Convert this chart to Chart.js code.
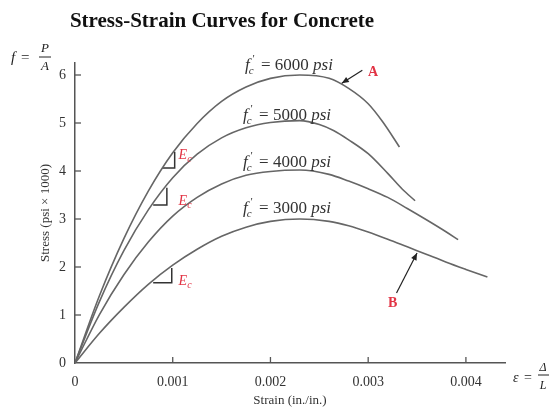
<!DOCTYPE html>
<html>
<head>
<meta charset="utf-8">
<title>Stress-Strain Curves for Concrete</title>
<script src="https://cdn.jsdelivr.net/npm/chart.js@4.4.1/dist/chart.umd.min.js"></script>
<style>
  html, body { margin: 0; padding: 0; background: #fff; }
  #wrap { width: 552px; height: 413px; }
</style>
</head>
<body>
<div id="wrap"><canvas id="chart" width="552" height="413"></canvas></div>
<script>
// curves (strain in in./in., stress in psi x 1000)
const strain6000 = [0, 0.00025, 0.0005, 0.00075, 0.001, 0.00125, 0.0015, 0.00175, 0.002, 0.0023, 0.0026, 0.0028, 0.003, 0.00315, 0.00332];
const stress6000 = [0, 1.40, 2.59, 3.58, 4.38, 4.99, 5.45, 5.75, 5.93, 6.00, 5.93, 5.72, 5.40, 5.02, 4.50];

const strain5000 = [0, 0.00025, 0.0005, 0.00075, 0.001, 0.00125, 0.0015, 0.00175, 0.002, 0.0023, 0.0025, 0.00265, 0.0028, 0.003, 0.0032, 0.00335, 0.00348];
const stress5000 = [0, 1.28, 2.34, 3.19, 3.86, 4.35, 4.69, 4.90, 5.01, 5.05, 4.97, 4.84, 4.65, 4.36, 3.95, 3.62, 3.38];

const strain4000 = [0, 0.00025, 0.0005, 0.00075, 0.001, 0.00125, 0.0015, 0.00175, 0.002, 0.0023, 0.0026, 0.0028, 0.003, 0.0032, 0.0034, 0.0036, 0.0038, 0.00392];
const stress4000 = [0, 1.01, 1.84, 2.52, 3.06, 3.45, 3.73, 3.91, 3.99, 4.02, 3.93, 3.79, 3.63, 3.45, 3.22, 2.98, 2.73, 2.57];

const strain3000 = [0, 0.00025, 0.0005, 0.00075, 0.001, 0.00125, 0.0015, 0.00175, 0.002, 0.0023, 0.0026, 0.0028, 0.003, 0.0032, 0.0034, 0.0036, 0.0038, 0.004, 0.00422];
const stress3000 = [0, 0.62, 1.16, 1.64, 2.04, 2.37, 2.64, 2.83, 2.95, 3.00, 2.95, 2.86, 2.73, 2.58, 2.42, 2.26, 2.10, 1.95, 1.79];

// small slope triangles (Ec) sitting on the curves
const triStrain1 = [0.00089, 0.00102, 0.00102];
const triStress1 = [4.06, 4.06, 4.40];
const triStrain2 = [0.00080, 0.00094, 0.00094];
const triStress2 = [3.29, 3.29, 3.65];
const triStrain3 = [0.00080, 0.00099, 0.00099];
const triStress3 = [1.67, 1.67, 1.98];

const xTicks = [0, 0.001, 0.002, 0.003, 0.004];
const yTicks = [0, 1, 2, 3, 4, 5, 6];
const curveNames = ['6000', '5000', '4000', '3000'];

const SERIF = '"Liberation Serif", "DejaVu Serif", serif';
const RED = '#e23445';

function pts(xs, ys) {
    return xs.map((x, i) => ({ x: x, y: ys[i] }));
}

function curve(label, xs, ys) {
    return {
        label: label,
        data: pts(xs, ys),
        borderColor: '#666',
        borderWidth: 1.6,
        pointRadius: 0,
        fill: false,
        cubicInterpolationMode: 'monotone'
    };
}

function tri(xs, ys) {
    return {
        label: 'Ec',
        data: pts(xs, ys),
        borderColor: '#333',
        borderWidth: 1.5,
        pointRadius: 0,
        fill: false,
        tension: 0
    };
}

// draws f'c = xxxx psi with baseline at (x, y)
function drawFc(ctx, x, y, val) {
    ctx.fillStyle = '#333';
    ctx.textAlign = 'left';
    ctx.textBaseline = 'alphabetic';
    ctx.font = 'italic 17px ' + SERIF;
    ctx.fillText('f', x, y);
    let w = ctx.measureText('f').width;
    ctx.font = 'italic 11px ' + SERIF;
    ctx.fillText('c', x + w - 1, y + 4);
    ctx.fillText('\u2032', x + w + 2, y - 8);
    w += 7;
    ctx.font = '17px ' + SERIF;
    const mid = ' = ' + val + ' ';
    ctx.fillText(mid, x + w, y);
    w += ctx.measureText(mid).width;
    ctx.font = 'italic 17px ' + SERIF;
    ctx.fillText('psi', x + w, y);
}

function drawEc(ctx, x, y) {
    ctx.fillStyle = RED;
    ctx.textAlign = 'left';
    ctx.textBaseline = 'alphabetic';
    ctx.font = 'italic 14px ' + SERIF;
    ctx.fillText('E', x, y);
    const w = ctx.measureText('E').width;
    ctx.font = 'italic 10px ' + SERIF;
    ctx.fillText('c', x + w, y + 3);
}

function arrow(ctx, x1, y1, x2, y2) {
    ctx.strokeStyle = '#222';
    ctx.fillStyle = '#222';
    ctx.lineWidth = 1.2;
    ctx.beginPath();
    ctx.moveTo(x1, y1);
    ctx.lineTo(x2, y2);
    ctx.stroke();
    const a = Math.atan2(y2 - y1, x2 - x1);
    const L = 7, W = 3;
    ctx.beginPath();
    ctx.moveTo(x2, y2);
    ctx.lineTo(x2 - L * Math.cos(a) + W * Math.sin(a), y2 - L * Math.sin(a) - W * Math.cos(a));
    ctx.lineTo(x2 - L * Math.cos(a) - W * Math.sin(a), y2 - L * Math.sin(a) + W * Math.cos(a));
    ctx.closePath();
    ctx.fill();
}

const decorPlugin = {
    id: 'decor',
    afterDraw(chart) {
        const ctx = chart.ctx;
        const xs = chart.scales.x;
        const ys = chart.scales.y;
        const X = v => xs.getPixelForValue(v);
        const Y = v => ys.getPixelForValue(v);
        ctx.save();

        // inward tick marks
        ctx.strokeStyle = '#555';
        ctx.lineWidth = 1.3;
        yTicks.slice(1).forEach(v => {
            ctx.beginPath();
            ctx.moveTo(X(0), Y(v));
            ctx.lineTo(X(0) + 6, Y(v));
            ctx.stroke();
        });
        xTicks.slice(1).forEach(v => {
            ctx.beginPath();
            ctx.moveTo(X(v), Y(0));
            ctx.lineTo(X(v), Y(0) - 6);
            ctx.stroke();
        });

        // title
        ctx.fillStyle = '#111';
        ctx.textAlign = 'center';
        ctx.textBaseline = 'middle';
        ctx.font = 'bold 21px ' + SERIF;
        ctx.fillText('Stress-Strain Curves for Concrete', 222, 22);

        // f = P / A
        ctx.fillStyle = '#222';
        ctx.textBaseline = 'alphabetic';
        ctx.textAlign = 'left';
        ctx.font = 'italic 15px ' + SERIF;
        ctx.fillText('f', 11, 62);
        ctx.font = '15px ' + SERIF;
        ctx.fillText('=', 21, 62);
        ctx.textAlign = 'center';
        ctx.font = 'italic 13px ' + SERIF;
        ctx.fillText('P', 45, 52);
        ctx.fillText('A', 45, 70);
        ctx.beginPath();
        ctx.lineWidth = 1;
        ctx.strokeStyle = '#222';
        ctx.moveTo(39, 57);
        ctx.lineTo(51, 57);
        ctx.stroke();

        // epsilon = delta / L
        ctx.textAlign = 'left';
        ctx.font = 'italic 14px ' + SERIF;
        ctx.fillText('\u03b5', 513, 382);
        ctx.font = '14px ' + SERIF;
        ctx.fillText('=', 524, 382);
        ctx.textAlign = 'center';
        ctx.font = 'italic 12px ' + SERIF;
        ctx.fillText('\u0394', 543, 371);
        ctx.fillText('L', 543, 389);
        ctx.beginPath();
        ctx.moveTo(538, 375);
        ctx.lineTo(549, 375);
        ctx.stroke();

        // curve labels
        drawFc(ctx, X(0.00174), Y(6.10), curveNames[0]);
        drawFc(ctx, X(0.00172), Y(5.06), curveNames[1]);
        drawFc(ctx, X(0.00172), Y(4.08), curveNames[2]);
        drawFc(ctx, X(0.00172), Y(3.13), curveNames[3]);

        drawEc(ctx, X(0.00106), Y(4.25));
        drawEc(ctx, X(0.00106), Y(3.29));
        drawEc(ctx, X(0.00106), Y(1.63));

        // A and B callouts
        arrow(ctx, X(0.00294), Y(6.10), X(0.00273), Y(5.83));
        arrow(ctx, X(0.00329), Y(1.46), X(0.0035), Y(2.29));
        ctx.fillStyle = RED;
        ctx.textAlign = 'center';
        ctx.textBaseline = 'middle';
        ctx.font = 'bold 14px ' + SERIF;
        ctx.fillText('A', X(0.00305), Y(6.06));
        ctx.fillText('B', X(0.00325), Y(1.25));

        ctx.restore();
    }
};

const ctx = document.getElementById('chart').getContext('2d');
const chart = new Chart(ctx, {
    type: 'line',
    data: {
        datasets: [
            curve('6000 psi', strain6000, stress6000),
            curve('5000 psi', strain5000, stress5000),
            curve('4000 psi', strain4000, stress4000),
            curve('3000 psi', strain3000, stress3000),
            tri(triStrain1, triStress1),
            tri(triStrain2, triStress2),
            tri(triStrain3, triStress3)
        ]
    },
    options: {
        responsive: false,
        animation: false,
        layout: { padding: { left: 0, right: 47, top: 63, bottom: 0 } },
        plugins: {
            legend: { display: false },
            tooltip: { enabled: false },
            title: { display: false }
        },
        scales: {
            x: {
                type: 'linear',
                min: 0,
                max: 0.0044,
                afterFit: s => { s.height = 50; },
                afterBuildTicks: s => { s.ticks = xTicks.map(v => ({ value: v })); },
                grid: { display: false, drawTicks: false },
                border: { display: true, color: '#555', width: 1.5 },
                ticks: {
                    padding: 11,
                    color: '#333',
                    font: { family: SERIF, size: 14 },
                    callback: v => (v === 0 ? '0' : v.toFixed(3))
                },
                title: {
                    display: true,
                    text: 'Strain (in./in.)',
                    color: '#333',
                    font: { family: SERIF, size: 13 },
                    padding: { top: 0, bottom: 5 }
                }
            },
            y: {
                type: 'linear',
                min: 0,
                max: 6.25,
                afterFit: s => { s.width = 75; },
                afterBuildTicks: s => { s.ticks = yTicks.map(v => ({ value: v })); },
                grid: { display: false, drawTicks: false },
                border: { display: true, color: '#555', width: 1.5 },
                ticks: {
                    padding: 9,
                    color: '#333',
                    font: { family: SERIF, size: 14 }
                },
                title: {
                    display: true,
                    text: 'Stress (psi \u00d7 1000)',
                    color: '#333',
                    font: { family: SERIF, size: 13 },
                    padding: { top: 38, bottom: 0 }
                }
            }
        }
    },
    plugins: [decorPlugin]
});
</script>
</body>
</html>
